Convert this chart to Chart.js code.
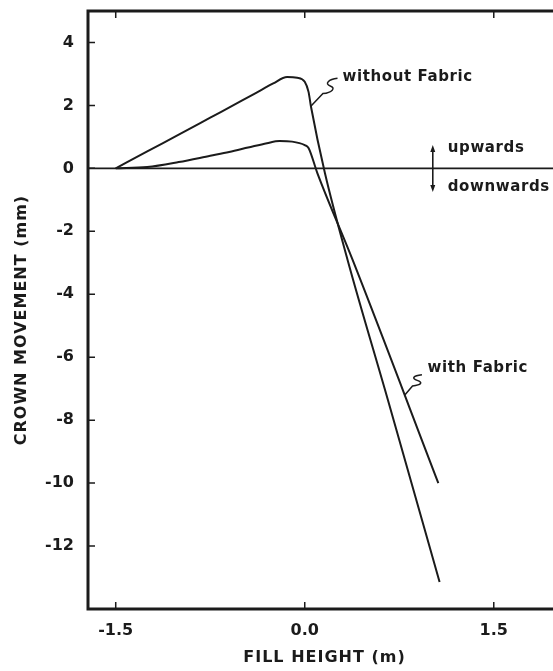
<!DOCTYPE html>
<html>
<head>
<meta charset="utf-8">
<script src="https://cdn.jsdelivr.net/npm/chart.js@4"></script>
<style>
  html, body { margin: 0; padding: 0; background: #fff; }
  #wrap { width: 553px; height: 671px; position: relative; }
</style>
</head>
<body>
<div id="wrap"><canvas id="crownChart"></canvas></div>
<script>
// crown movement (mm) against fill height (m)
const withoutFabricX = [-1.5, -1.25, -1.0, -0.75, -0.5, -0.35, -0.25, -0.14, -0.06, 0.0, 0.03, 0.05, 0.16, 0.34, 0.66, 1.07];
const withoutFabricY = [0, 0.54, 1.07, 1.61, 2.15, 2.48, 2.70, 2.90, 2.88, 2.75, 2.43, 1.95, -0.15, -2.91, -7.36, -13.14];

const withFabricX = [-1.5, -1.25, -1.0, -0.75, -0.6, -0.45, -0.3, -0.2, -0.1, 0.0, 0.03, 0.10, 0.38, 1.06];
const withFabricY = [0, 0.04, 0.20, 0.40, 0.52, 0.66, 0.80, 0.87, 0.85, 0.74, 0.65, -0.15, -2.91, -10.0];

const xTickValues = [-1.5, 0, 1.5];
const xTickLabels = ["-1.5", "0.0", "1.5"];
const yTickValues = [4, 2, 0, -2, -4, -6, -8, -10, -12];
const yTickLabels = ["4", "2", "0", "-2", "-4", "-6", "-8", "-10", "-12"];

const ink = "#1b1b1b";
const fontFamily = "'DejaVu Sans', sans-serif";

function toPoints(xs, ys) {
    return xs.map((x, i) => ({ x: x, y: ys[i] }));
}

// labels placed in data units
const notes = [
    { text: "without Fabric", x: 0.30, y: 2.90 },
    { text: "upwards", x: 1.135, y: 0.65 },
    { text: "downwards", x: 1.135, y: -0.59 },
    { text: "with Fabric", x: 0.975, y: -6.34 }
];
const leaders = [
    { from: [0.05, 1.98], to: [0.26, 2.86] },
    { from: [0.794, -7.2], to: [0.93, -6.56] }
];

const decor = {
    id: "decor",
    beforeDatasetsDraw(chart) {
        const { ctx, chartArea: a, scales: { y } } = chart;
        ctx.save();
        ctx.strokeStyle = ink;
        ctx.lineWidth = 1.6;
        const y0 = y.getPixelForValue(0);
        ctx.beginPath();
        ctx.moveTo(a.left, y0);
        ctx.lineTo(a.right, y0);
        ctx.stroke();
        ctx.restore();
    },
    afterDatasetsDraw(chart) {
        const { ctx, chartArea: a, scales: { x, y } } = chart;
        const px = v => x.getPixelForValue(v);
        const py = v => y.getPixelForValue(v);
        ctx.save();
        ctx.strokeStyle = ink;
        ctx.fillStyle = ink;

        // frame: left, bottom, top
        ctx.lineWidth = 3;
        ctx.beginPath();
        ctx.moveTo(a.right, a.top);
        ctx.lineTo(a.left, a.top);
        ctx.lineTo(a.left, a.bottom);
        ctx.lineTo(a.right, a.bottom);
        ctx.stroke();

        // inward tick marks
        ctx.lineWidth = 1.5;
        ctx.beginPath();
        yTickValues.forEach(v => {
            ctx.moveTo(a.left, py(v));
            ctx.lineTo(a.left + 7, py(v));
        });
        xTickValues.forEach(v => {
            ctx.moveTo(px(v), a.bottom);
            ctx.lineTo(px(v), a.bottom - 7);
            ctx.moveTo(px(v), a.top);
            ctx.lineTo(px(v), a.top + 7);
        });
        ctx.stroke();

        // leader squiggles
        ctx.lineWidth = 1.5;
        leaders.forEach(l => {
            const x0 = px(l.from[0]), y0 = py(l.from[1]);
            const x1 = px(l.to[0]), y1 = py(l.to[1]);
            const mx = x0 + (x1 - x0) * 0.45, my = y0 + (y1 - y0) * 0.45;
            const qx = (mx + x1) / 2, qy = (my + y1) / 2;
            ctx.beginPath();
            ctx.moveTo(x0, y0);
            ctx.lineTo(mx, my);
            ctx.bezierCurveTo(mx + 9, my - 1, qx + 6, qy + 2, qx, qy);
            ctx.bezierCurveTo(qx - 6, qy - 2, x1 - 9, y1 + 1, x1, y1);
            ctx.stroke();
        });

        // up / down arrow
        const ax = px(1.016), ayTop = py(0.74), ayBot = py(-0.75);
        ctx.lineWidth = 1.6;
        ctx.beginPath();
        ctx.moveTo(ax, ayTop + 4);
        ctx.lineTo(ax, ayBot - 4);
        ctx.stroke();
        ctx.beginPath();
        ctx.moveTo(ax, ayTop);
        ctx.lineTo(ax - 2.5, ayTop + 7);
        ctx.lineTo(ax + 2.5, ayTop + 7);
        ctx.closePath();
        ctx.moveTo(ax, ayBot);
        ctx.lineTo(ax - 2.5, ayBot - 7);
        ctx.lineTo(ax + 2.5, ayBot - 7);
        ctx.closePath();
        ctx.fill();

        // text notes
        ctx.font = "bold 15px " + fontFamily;
        ctx.textAlign = "left";
        ctx.textBaseline = "middle";
        try { ctx.letterSpacing = "0.6px"; } catch (e) {}
        notes.forEach(n => ctx.fillText(n.text, px(n.x), py(n.y)));

        // axis titles
        try { ctx.letterSpacing = "1px"; } catch (e) {}
        ctx.font = "bold 16px " + fontFamily;
        ctx.textAlign = "center";
        ctx.fillText("FILL HEIGHT (m)", (a.left + a.right) / 2 + 4, 658);
        ctx.translate(22, (a.top + a.bottom) / 2 + 10);
        ctx.rotate(-Math.PI / 2);
        ctx.fillText("CROWN MOVEMENT (mm)", 0, 0);
        ctx.restore();
    }
};

const ctx = document.getElementById("crownChart").getContext("2d");

new Chart(ctx, {
    type: "line",
    data: {
        datasets: [
            {
                label: "without Fabric",
                data: toPoints(withoutFabricX, withoutFabricY),
                borderColor: ink,
                borderWidth: 2,
                pointRadius: 0,
                cubicInterpolationMode: "monotone",
                fill: false
            },
            {
                label: "with Fabric",
                data: toPoints(withFabricX, withFabricY),
                borderColor: ink,
                borderWidth: 2,
                pointRadius: 0,
                cubicInterpolationMode: "monotone",
                fill: false
            }
        ]
    },
    options: {
        responsive: true,
        maintainAspectRatio: false,
        animation: false,
        layout: { padding: { top: 11, right: 0, bottom: 0, left: 0 } },
        plugins: {
            legend: { display: false },
            tooltip: { enabled: false }
        },
        scales: {
            x: {
                type: "linear",
                min: -1.72,
                max: 1.97,
                afterBuildTicks: s => { s.ticks = xTickValues.map(v => ({ value: v })); },
                afterFit: s => { s.height = 62; s.paddingLeft = 0; s.paddingRight = 0; },
                grid: { display: false, drawTicks: false },
                border: { display: false },
                ticks: {
                    padding: 12,
                    color: ink,
                    font: { family: fontFamily, size: 16, weight: "bold" },
                    maxRotation: 0,
                    callback: v => xTickLabels[xTickValues.indexOf(v)]
                }
            },
            y: {
                type: "linear",
                min: -14,
                max: 5,
                afterBuildTicks: s => { s.ticks = yTickValues.map(v => ({ value: v })); },
                afterFit: s => { s.width = 88; s.paddingTop = 0; s.paddingBottom = 0; },
                grid: { display: false, drawTicks: false },
                border: { display: false },
                ticks: {
                    padding: 14,
                    color: ink,
                    font: { family: fontFamily, size: 16, weight: "bold" },
                    callback: v => yTickLabels[yTickValues.indexOf(v)]
                }
            }
        }
    },
    plugins: [decor]
});
</script>
</body>
</html>
